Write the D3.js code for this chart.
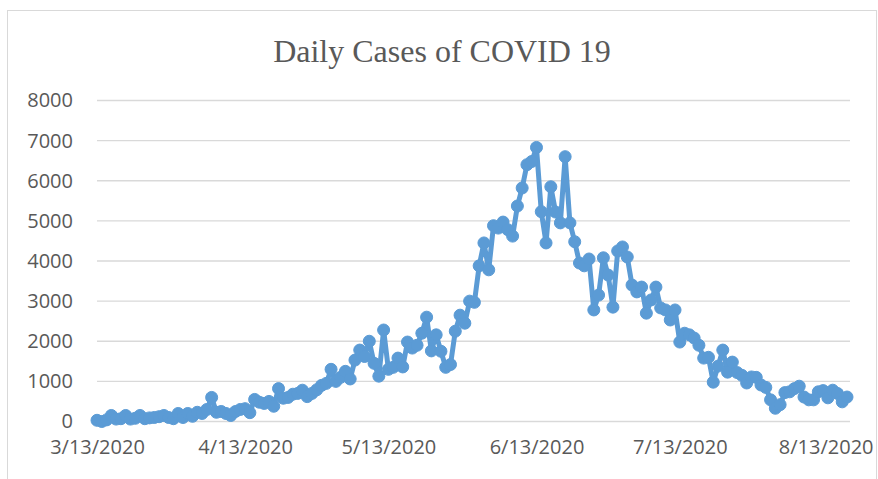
<!DOCTYPE html>
<html>
<head>
<meta charset="utf-8">
<script src="https://cdn.jsdelivr.net/npm/d3@7"></script>
<style>
  body { margin: 0; background: #fff; }
  svg { display: block; }
</style>
</head>
<body>
<svg id="chart"></svg>
<script>
// first day of the series, one value per day after it
const startDate = "2020-03-13";
const cases = [
    30, 0, 40, 150, 60, 70, 150, 60, 80, 150,
    70, 90, 100, 120, 150, 100, 70, 200, 100, 200,
    130, 230, 200, 300, 600, 230, 250, 200, 150, 250,
    300, 320, 220, 550, 480, 450, 500, 380, 820, 580,
    600, 680, 700, 780, 620, 700, 790, 900, 950, 1300,
    1000, 1100, 1250, 1060, 1530, 1780, 1620, 2000, 1450, 1130,
    2280, 1300, 1350, 1580, 1360, 1980, 1830, 1900, 2200, 2600,
    1760, 2160, 1750, 1350, 1420, 2250, 2650, 2450, 3000, 2970,
    3880, 4450, 3780, 4880, 4820, 4970, 4780, 4620, 5370, 5820,
    6400, 6480, 6830, 5230, 4450, 5850, 5220, 4950, 6600, 4950,
    4480, 3950, 3880, 4050, 2780, 3150, 4080, 3650, 2850, 4250,
    4350, 4100, 3400, 3230, 3350, 2700, 3030, 3350, 2830, 2780,
    2530, 2780, 1980, 2200, 2160, 2080, 1900, 1580, 1600, 980,
    1380, 1780, 1230, 1480, 1220, 1150, 960, 1110, 1100, 910,
    850, 540, 330, 420, 720, 740, 820, 880, 610, 540,
    540, 740, 770, 590, 780, 700, 490, 610
];
const yTicks = [0, 1000, 2000, 3000, 4000, 5000, 6000, 7000, 8000];
const xTickLabels = ["3/13/2020", "4/13/2020", "5/13/2020", "6/13/2020", "7/13/2020", "8/13/2020"];

const width = 878, height = 479;
const margin = { top: 100.5, right: 30, bottom: 57.5, left: 97 };

const svg = d3.select("#chart")
    .attr("width", width)
    .attr("height", height);

const parse = d3.timeParse("%Y-%m-%d");
const day0 = parse(startDate);
const data = cases.map((v, i) => ({ date: d3.timeDay.offset(day0, i), value: v }));

// chart area border (runs off the bottom of the picture)
svg.append("rect")
    .attr("x", 7.5)
    .attr("y", 10.5)
    .attr("width", 869)
    .attr("height", 500)
    .attr("fill", "none")
    .attr("stroke", "#d9d9d9")
    .attr("stroke-width", 1);

svg.append("text")
    .attr("x", 442)
    .attr("y", 62)
    .attr("text-anchor", "middle")
    .style("font-family", "'Liberation Serif', 'Times New Roman', serif")
    .style("font-size", "32px")
    .style("fill", "#595959")
    .text("Daily Cases of COVID 19");

const xScale = d3.scaleTime()
    .domain(d3.extent(data, d => d.date))
    .range([margin.left, width - margin.right - 1]);

const yScale = d3.scaleLinear()
    .domain([0, 8000])
    .range([height - margin.bottom, margin.top]);

// gridlines
svg.append("g")
    .selectAll("line")
    .data(yTicks)
    .join("line")
    .attr("x1", margin.left)
    .attr("x2", width - margin.right + 2)
    .attr("y1", d => yScale(d))
    .attr("y2", d => yScale(d))
    .attr("stroke", "#d9d9d9")
    .attr("stroke-width", 1.3);

const yAxis = svg.append("g")
    .attr("transform", `translate(${margin.left},0)`)
    .call(d3.axisLeft(yScale).tickValues(yTicks).tickSize(0).tickPadding(24)
        .tickFormat(d3.format("d")));
yAxis.select(".domain").remove();
yAxis.selectAll("text")
    .style("font-family", "'Open Sans', sans-serif")
    .style("font-size", "20px")
    .style("fill", "#595959");

const tickDates = xTickLabels.map(s => d3.timeParse("%m/%d/%Y")(s));
const xAxis = svg.append("g")
    .attr("transform", `translate(0,${height - margin.bottom})`)
    .call(d3.axisBottom(xScale).tickValues(tickDates).tickSize(0).tickPadding(18)
        .tickFormat((d, i) => xTickLabels[i]));
xAxis.select(".domain").remove();
xAxis.selectAll("text")
    .style("font-family", "'Open Sans', sans-serif")
    .style("font-size", "20px")
    .style("fill", "#595959")
    .each(function(d) {
        // keep labels inside the chart area, like the spreadsheet does
        const w = this.getComputedTextLength();
        const x = xScale(d);
        const over = x + w / 2 - 873;
        if (over > 0) d3.select(this).attr("x", -over);
    });

const line = d3.line()
    .x(d => xScale(d.date))
    .y(d => yScale(d.value));

svg.append("path")
    .datum(data)
    .attr("d", line)
    .attr("fill", "none")
    .attr("stroke", "#5b9bd5")
    .attr("stroke-width", 5)
    .attr("stroke-linejoin", "round");

svg.append("g")
    .selectAll("circle")
    .data(data)
    .join("circle")
    .attr("cx", d => xScale(d.date))
    .attr("cy", d => yScale(d.value))
    .attr("r", 6)
    .attr("fill", "#5b9bd5")
    .attr("stroke", "#5b9bd5")
    .attr("stroke-width", 1);
</script>
</body>
</html>
